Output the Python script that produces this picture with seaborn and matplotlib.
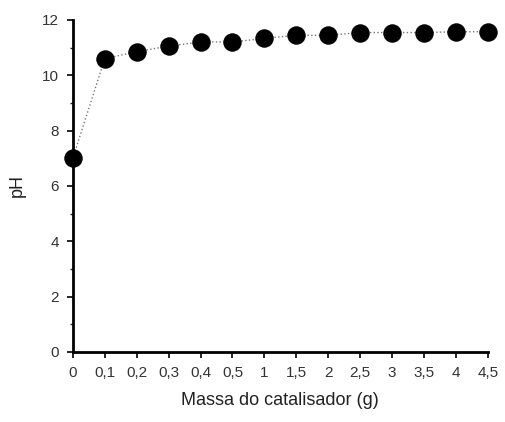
import numpy as np
import pandas as pd
import seaborn as sns
import matplotlib.pyplot as plt
from matplotlib.ticker import MultipleLocator

# catalyst mass (g) and measured pH
massa = ['0', '0,1', '0,2', '0,3', '0,4', '0,5', '1', '1,5', '2', '2,5', '3', '3,5', '4', '4,5']
ph = [7.0, 10.6, 10.85, 11.05, 11.2, 11.2, 11.33, 11.44, 11.44, 11.54, 11.54, 11.54, 11.57, 11.57]

df = pd.DataFrame({'pos': range(len(massa)), 'ph': ph})

sns.set_style('ticks')
plt.rcParams['font.family'] = ['Liberation Sans', 'DejaVu Sans']

fig = plt.figure(figsize=(5.06, 4.22), dpi=100)
ax = fig.add_axes([0.144, 0.166, 0.820, 0.787])

sns.lineplot(data=df, x='pos', y='ph', ax=ax, color='#777777', linestyle=':',
             linewidth=1, marker='o', markersize=12.5, markerfacecolor='black',
             markeredgecolor='black', clip_on=False, zorder=5)

ax.set_xlim(0, len(massa) - 1)
ax.set_ylim(0, 12)
ax.set_xticks(df['pos'])
ax.set_xticklabels(massa)
ax.yaxis.set_major_locator(MultipleLocator(2))
ax.yaxis.set_minor_locator(MultipleLocator(1))
ax.tick_params(axis='both', labelsize=11, colors='black', labelcolor='#333333',
               width=1.2, length=4)
ax.tick_params(axis='x', pad=6)
ax.tick_params(axis='y', pad=6)
ax.tick_params(axis='y', which='minor', length=2, width=1)

for s in ['top', 'right']:
    ax.spines[s].set_visible(False)
for s in ['left', 'bottom']:
    ax.spines[s].set_linewidth(2)
    ax.spines[s].set_color('black')

ax.set_xlabel('Massa do catalisador (g)', fontsize=13, color='#222222', labelpad=9)
ax.set_ylabel('pH', fontsize=13, color='#222222', labelpad=12)

fig.savefig('out.png', dpi=100)
